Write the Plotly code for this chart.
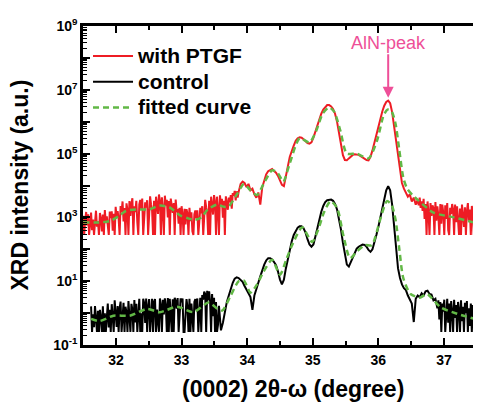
import numpy as np
import plotly.graph_objects as go

# ---- data: log10 of XRD intensity ----
# each scan is stored as three pieces: (start 2theta, step, values)
PTGF_LEFT_START, PTGF_LEFT_STEP = 31.50, 0.015
PTGF_LEFT_LOG = [
    3.05, 2.45, 2.90, 3.17, 2.75, 3.10, 2.45, 2.97, 3.15, 2.60, 2.93, 2.45,
    3.04, 3.21, 2.71, 2.88, 2.45, 3.14, 2.96, 2.56, 3.09, 2.45, 3.23, 2.82,
    3.03, 2.68, 2.45, 3.18, 2.98, 3.19, 2.58, 3.11, 2.45, 3.33, 3.00, 3.20,
    2.96, 2.45, 3.36, 3.16, 3.50, 2.87, 3.29, 2.45, 3.44, 3.24, 2.45, 3.51,
    3.05, 3.43, 3.60, 2.45, 3.35, 3.17, 3.52, 2.85, 2.45, 3.41, 3.55, 3.27,
    3.59, 2.45, 3.13, 3.47, 3.31, 3.54, 2.45, 3.03, 3.66, 3.40, 3.23, 2.45,
    3.52, 2.45, 3.65, 3.40, 3.11, 3.72, 3.51, 2.45, 3.63, 3.26, 2.45, 3.68,
    3.37, 3.55, 3.00, 3.51, 2.45, 3.59, 3.39, 3.14, 3.45, 2.45, 3.56, 3.20,
    3.22, 2.80, 3.30, 2.45, 3.35, 3.09, 2.45, 3.27, 2.78, 3.26, 3.12, 2.45,
    3.30, 2.88, 3.16, 2.56, 2.45, 3.10, 3.22, 2.97, 3.22, 2.45, 2.86, 3.30,
    3.13, 3.35, 2.45, 2.85, 3.55, 3.32, 3.16, 2.45, 3.52, 2.45, 3.65, 3.40,
    3.09, 3.70, 3.49, 2.45, 3.65, 3.27, 2.45, 3.69, 3.40, 3.58, 2.99, 3.52,
    2.45, 3.66, 3.42, 3.24, 3.62, 3.47, 3.70, 3.27, 3.76, 3.68, 3.83, 3.53,
    3.82, 3.62, 3.80,
]
PTGF_MID_START, PTGF_MID_STEP = 33.90, 0.03
PTGF_MID_LOG = [
    4.05,
    4.12, 4.08, 3.95, 4.05, 3.85, 3.90, 3.72, 3.62, 3.78, 3.40, 3.95, 4.15, 4.35, 4.45, 4.50, 4.52,
    4.45, 4.40, 4.30, 4.18, 4.02, 3.98, 4.25, 4.60, 4.90, 5.10, 5.25, 5.40, 5.48, 5.51, 5.50, 5.45,
    5.38, 5.33, 5.31, 5.35, 5.50, 5.70, 5.90, 6.08, 6.25, 6.38, 6.47, 6.52, 6.52, 6.48, 6.40, 6.25,
    6.00, 5.65, 5.25, 4.95, 4.80, 4.79, 4.85, 4.92, 4.96, 4.98, 4.98, 4.96, 4.92, 4.88, 4.84, 4.80,
    4.79, 4.90, 5.10, 5.35, 5.60, 5.85, 6.10, 6.32, 6.50, 6.62, 6.66, 6.58, 6.30, 5.85, 5.40, 4.90,
    4.40, 4.08, 3.90, 3.75, 3.65, 3.72, 3.50, 3.62, 3.40,
]
PTGF_RIGHT_START, PTGF_RIGHT_STEP = 36.60, 0.015
PTGF_RIGHT_LOG = [
    3.55, 3.38, 3.62, 3.30, 3.50, 3.20, 3.58, 2.95, 3.42, 2.45, 3.50, 3.15,
    2.45, 3.45, 3.05, 3.38, 3.30, 2.45, 3.48, 2.90, 3.35, 3.05, 2.45, 3.42,
    2.80, 3.40, 3.15, 2.45, 3.38, 2.95, 3.45, 2.60, 2.45, 3.30, 3.10, 3.42,
    3.25, 2.45, 3.40, 2.85, 3.35, 3.00, 2.45, 3.28, 2.45, 3.40, 3.10, 2.70,
    3.32, 2.45, 3.20, 3.45, 2.90, 3.25, 2.45, 3.36, 3.15, 2.45, 3.42, 3.00,
    2.45, 3.30, 2.80, 3.22, 3.05, 2.45, 3.35,
]

CONTROL_LEFT_START, CONTROL_LEFT_STEP = 31.62, 0.015
CONTROL_LEFT_LOG = [
    0.21, -0.59, -0.04, -0.44, 0.22, -0.28, -0.59, 0.07, -0.59, 0.10, -0.15, -0.59,
    0.21, -0.59, -0.01, -0.59, -0.10, 0.30, -0.45, 0.10, -0.59, 0.28, -0.10, -0.59,
    0.40, 0.04, -0.43, 0.22, -0.59, 0.14, 0.36, -0.59, -0.23, 0.32, -0.59, 0.20,
    0.02, -0.59, 0.38, -0.28, -0.59, 0.29, 0.12, -0.59, 0.41, -0.29, 0.29, -0.59,
    0.19, 0.45, -0.59, -0.01, -0.59, 0.45, 0.31, -0.31, 0.46, -0.59, 0.20, 0.44,
    -0.59, -0.08, 0.45, -0.59, 0.36, 0.44, -0.59, 0.11, -0.31, -0.59, 0.46, 0.24,
    -0.59, 0.42, -0.04, 0.46, 0.23, -0.59, 0.47, -0.59, 0.45, -0.10, -0.59, 0.43,
    -0.59, 0.48, 0.37, 0.14, 0.47, -0.59, -0.11, 0.46, 0.34, 0.46, -0.59, -0.59,
    -0.06, 0.44, 0.19, -0.59, 0.45, -0.59, 0.30, -0.30, -0.59, 0.35, 0.44, 0.10,
    0.46, -0.59, 0.03, 0.48, -0.59, 0.57, 0.42, 0.67, 0.60, -0.59, 0.70, 0.40,
    0.68, 0.35, -0.59, 0.60, -0.10, 0.48, -0.59, 0.35, -0.59, -0.37, 0.23,
]
CONTROL_MID_START, CONTROL_MID_STEP = 33.60, 0.03
CONTROL_MID_LOG = [
    -0.54,
    -0.30, 0.05, 0.35, 0.55, 0.78, 0.95, 1.08, 1.12, 1.10, 1.05,
    0.98, 0.85, 0.75, 0.62, 0.50, 0.10, 0.55, 0.72, 0.95, 1.15, 1.35, 1.52, 1.65, 1.72, 1.72, 1.68,
    1.60, 1.50, 1.30, 1.05, 0.90, 1.05, 1.40, 1.72, 2.00, 2.25, 2.45, 2.58, 2.68, 2.72, 2.72, 2.66,
    2.52, 2.32, 2.15, 2.08, 2.15, 2.40, 2.68, 2.95, 3.18, 3.36, 3.48, 3.54, 3.56, 3.56, 3.52, 3.42,
    3.25, 2.98, 2.62, 2.20, 1.80, 1.52, 1.46, 1.60, 1.78, 1.92, 2.02, 2.08, 2.12, 2.15, 2.14, 2.08,
    1.98, 1.92, 2.00, 2.20, 2.45, 2.70, 2.98, 3.28, 3.58, 3.85, 3.98, 3.85, 3.40, 2.70, 1.95, 1.40,
    1.10, 0.90, 0.78, 0.72, 0.55, 0.40, 0.30, -0.28, 0.45, 0.55, 0.50, 0.62, 0.55, 0.68, 0.70, 0.60,
    0.58, 0.40, 0.45,
]
CONTROL_RIGHT_START, CONTROL_RIGHT_STEP = 36.90, 0.015
CONTROL_RIGHT_LOG = [
    0.15, 0.40, -0.20, 0.35, -0.59, 0.30, 0.05, 0.42, -0.59, 0.20, 0.45, -0.30,
    0.30, -0.59, 0.38, 0.05, -0.59, 0.42, -0.15, 0.25, -0.59, 0.35, 0.10, -0.59,
    0.40, -0.25, 0.20, -0.59, 0.32, 0.00, 0.38, -0.59, 0.15, -0.40, 0.30, -0.59,
    0.25, 0.05, -0.59, 0.35, -0.20, 0.22, -0.59, 0.28, 0.00, -0.59, 0.18,
]

PTGF_FIT_X = [31.50, 31.70, 31.90, 32.05, 32.15, 32.30, 32.50, 32.67, 32.82, 32.98, 33.10, 33.20,
              33.30, 33.40, 33.54, 33.65, 33.72, 33.85, 33.95, 34.05, 34.15, 34.25, 34.38, 34.47,
              34.55, 34.65, 34.80, 34.95, 35.05, 35.15, 35.25, 35.33, 35.42, 35.52, 35.67, 35.85,
              35.98, 36.08, 36.14, 36.20, 36.26, 36.32, 36.38, 36.44, 36.52, 36.60, 36.84, 37.15, 37.56]
PTGF_FIT_LOG = [2.85, 2.84, 2.88, 3.05, 3.20, 3.25, 3.25, 3.37, 3.31, 3.06, 2.97, 2.92,
                3.00, 3.25, 3.40, 3.33, 3.35, 3.75, 4.05, 3.85, 3.70, 4.05, 4.48, 4.38,
                4.12, 4.70, 5.48, 5.35, 5.70, 6.25, 6.45, 6.30, 5.72, 5.00, 5.00, 4.85,
                5.41, 6.20, 6.38, 6.33, 5.95, 5.10, 4.25, 3.90, 3.70, 3.55, 3.15, 3.00, 2.79]

CONTROL_FIT_X = [31.62, 31.75, 31.96, 32.21, 32.47, 32.67, 32.93, 33.18, 33.41, 33.55, 33.62, 33.75,
                 33.87, 33.95, 34.05, 34.15, 34.25, 34.38, 34.50, 34.60, 34.70, 34.84, 34.99, 35.08,
                 35.17, 35.27, 35.37, 35.47, 35.57, 35.68, 35.80, 35.90, 36.03, 36.13, 36.20, 36.26,
                 36.32, 36.38, 36.49, 36.64, 36.74, 36.95, 37.20, 37.56]
CONTROL_FIT_LOG = [-0.18, -0.25, -0.08, -0.08, 0.13, 0.03, 0.20, 0.03, 0.33, 0.13, 0.08, 0.55,
                   1.00, 1.02, 0.64, 0.90, 1.30, 1.67, 1.20, 1.70, 2.20, 2.69, 2.23, 2.60,
                   3.15, 3.51, 3.30, 2.40, 1.72, 1.95, 2.13, 2.13, 2.95, 3.51, 3.40, 2.95,
                   2.00, 1.10, 0.60, 0.49, 0.60, 0.18, -0.02, -0.23]

SERIES_NAMES = ["with PTGF", "control", "fitted curve"]
X_TICKS = [32, 33, 34, 35, 36, 37]
Y_TICK_EXP = [-1, 0, 1, 2, 3, 4, 5, 6, 7, 8, 9]
PEAK_LABEL = "AlN-peak"
PEAK_X = 36.15
PEAK_TIP_LOG = 6.75


# ---- helpers ----
def scan(pieces):
    xs, ys = [], []
    for start, step, logs in pieces:
        xs.extend(np.round(start + step * np.arange(len(logs)), 4).tolist())
        ys.extend(10.0 ** np.array(logs))
    return xs, ys


def legend_name(s):
    return '<span style="font-size:21px">%s</span>' % s


ptgf_x, ptgf_y = scan([(PTGF_LEFT_START, PTGF_LEFT_STEP, PTGF_LEFT_LOG),
                       (PTGF_MID_START, PTGF_MID_STEP, PTGF_MID_LOG),
                       (PTGF_RIGHT_START, PTGF_RIGHT_STEP, PTGF_RIGHT_LOG)])
ctrl_x, ctrl_y = scan([(CONTROL_LEFT_START, CONTROL_LEFT_STEP, CONTROL_LEFT_LOG),
                       (CONTROL_MID_START, CONTROL_MID_STEP, CONTROL_MID_LOG),
                       (CONTROL_RIGHT_START, CONTROL_RIGHT_STEP, CONTROL_RIGHT_LOG)])

RED = "#ee1c24"
GREEN = "#62b846"
PINK = "#ee4f98"
FONT = "Liberation Sans, Arial, sans-serif"

fig = go.Figure()
fig.add_trace(go.Scatter(x=ptgf_x, y=ptgf_y, mode="lines", name=legend_name(SERIES_NAMES[0]),
                         line=dict(color=RED, width=2)))
fig.add_trace(go.Scatter(x=ctrl_x, y=ctrl_y, mode="lines", name=legend_name(SERIES_NAMES[1]),
                         line=dict(color="black", width=2)))
fig.add_trace(go.Scatter(x=PTGF_FIT_X, y=10.0 ** np.array(PTGF_FIT_LOG), mode="lines",
                         name=legend_name(SERIES_NAMES[2]), legendgroup="fit",
                         line=dict(color=GREEN, width=2.5, dash="6px,4px", shape="spline", smoothing=0.7)))
fig.add_trace(go.Scatter(x=CONTROL_FIT_X, y=10.0 ** np.array(CONTROL_FIT_LOG), mode="lines",
                         name=legend_name(SERIES_NAMES[2]), legendgroup="fit", showlegend=False,
                         line=dict(color=GREEN, width=2.5, dash="6px,4px", shape="spline", smoothing=0.7)))

ytickvals = [10.0 ** e for e in Y_TICK_EXP]
yticktext = [("10<sup>%d</sup>" % e) if e % 2 else "" for e in Y_TICK_EXP]
yminor = [m * 10.0 ** e for e in Y_TICK_EXP[:-1] for m in range(2, 10)]

fig.update_xaxes(range=[31.497, 37.565], tickvals=X_TICKS, ticktext=[str(t) for t in X_TICKS],
                 ticks="inside", ticklen=7, tickwidth=2, tickcolor="black",
                 showline=True, linewidth=2.5, linecolor="black", mirror="ticks",
                 showgrid=False, zeroline=False,
                 tickfont=dict(family=FONT, size=14, color="black", weight="bold"),
                 minor=dict(dtick=0.5, ticks="inside", ticklen=4, tickwidth=1.5, tickcolor="black",
                            showgrid=False))
fig.update_yaxes(type="log", range=[-1, 9], tickmode="array", tickvals=ytickvals, ticktext=yticktext,
                 ticks="inside", ticklen=7, tickwidth=2, tickcolor="black",
                 showline=True, linewidth=2.5, linecolor="black",
                 showgrid=False, zeroline=False,
                 tickfont=dict(family=FONT, size=14, color="black", weight="bold"),
                 minor=dict(tickmode="array", tickvals=yminor, ticks="inside", ticklen=4,
                            tickwidth=1.2, tickcolor="black", showgrid=False))

fig.update_layout(
    width=481, height=406,
    margin=dict(l=75, r=8, t=12, b=69),
    paper_bgcolor="white", plot_bgcolor="white",
    showlegend=True,
    legend=dict(x=0.0126, y=0.962, xanchor="left", yanchor="top", bgcolor="rgba(0,0,0,0)",
                font=dict(family=FONT, size=17.5, color="black", weight="bold"),
                itemwidth=40, tracegroupgap=0),
    annotations=[
        dict(x=PEAK_X, y=PEAK_TIP_LOG, xref="x", yref="y", text=PEAK_LABEL, showarrow=True,
             ax=0, ay=-55, arrowcolor=PINK, arrowwidth=2, arrowhead=2, arrowsize=1.1,
             font=dict(family=FONT, size=18, color=PINK)),
        dict(x=(293 - 83) / 398, y=(345 - 390) / 325, xref="paper", yref="paper",
             text="(0002) 2θ-ω (degree)", showarrow=False, xanchor="center", yanchor="middle",
             font=dict(family=FONT, size=23, color="black", weight="bold")),
        dict(x=(19 - 83) / 398, y=0.5, xref="paper", yref="paper", textangle=-90,
             text="XRD intensity (a.u.)", showarrow=False, xanchor="center", yanchor="middle",
             font=dict(family=FONT, size=23, color="black", weight="bold")),
    ],
)

fig.write_html("out.html")
